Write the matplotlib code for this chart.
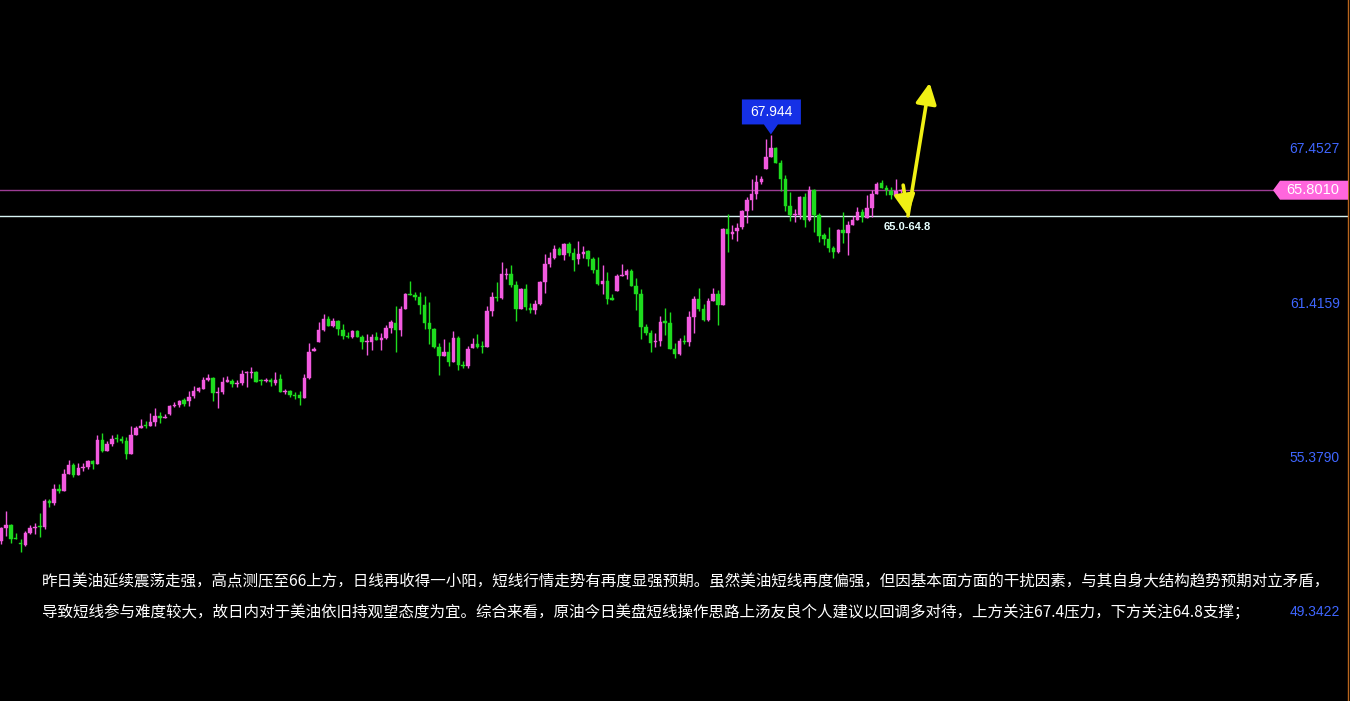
import matplotlib
matplotlib.use("Agg")
import matplotlib.pyplot as plt
from matplotlib.patches import Polygon, FancyArrowPatch
import numpy as np

# ---------------- data ----------------
opens = [52.09,52.59,52.70,52.21,52.01,51.92,52.39,52.59,52.66,52.63,
         53.64,53.56,54.11,54.03,54.70,55.05,54.66,54.93,54.97,55.21,
         55.09,56.03,55.60,55.87,56.11,56.07,55.99,55.48,56.22,56.50,
         56.62,56.58,56.73,56.97,56.89,57.05,57.36,57.40,57.59,57.55,
         57.75,57.95,58.02,58.37,58.45,57.87,57.91,58.30,58.34,58.22,
         58.26,58.65,58.65,58.69,58.37,58.34,58.37,58.26,58.41,57.91,
         57.95,57.79,57.79,57.67,58.45,59.51,59.86,60.33,60.76,60.49,
         60.68,60.33,60.10,60.06,60.29,60.06,59.86,59.86,60.06,59.94,
         60.02,60.41,60.61,60.33,61.15,61.74,61.70,61.62,61.31,60.61,
         60.37,59.67,59.31,59.47,59.08,60.02,58.96,58.92,59.63,59.78,
         59.71,59.67,61.07,61.62,61.58,62.48,62.52,62.09,61.15,61.94,
         61.19,61.11,61.35,62.21,62.91,63.15,63.50,63.27,63.70,63.35,
         63.11,63.31,63.42,63.11,62.68,62.13,62.25,61.58,61.86,62.44,
         62.48,62.64,62.05,61.74,60.45,60.21,59.86,59.90,60.68,60.61,
         59.59,59.39,59.90,59.86,60.84,61.54,61.15,60.72,61.47,61.74,
         61.31,64.28,64.09,64.21,64.36,64.99,65.42,65.65,66.12,66.63,
         67.10,67.45,66.87,66.24,65.18,64.83,64.83,65.54,64.64,65.81,
         64.83,64.05,63.89,63.54,63.39,64.24,64.13,64.44,64.64,64.95,
         64.71,65.11,65.65,66.08,65.89,65.77,65.58,65.77]
highs = [52.61,53.25,52.74,52.39,52.15,52.47,52.70,52.78,53.17,53.72,
         53.72,54.31,54.31,54.89,55.25,55.13,55.13,55.13,55.25,55.25,
         56.22,56.30,55.99,56.22,56.26,56.18,56.15,56.58,56.58,56.85,
         56.77,57.08,57.28,57.12,57.05,57.40,57.52,57.59,57.67,57.95,
         58.14,58.10,58.49,58.61,58.49,58.10,58.49,58.53,58.41,58.37,
         58.77,58.73,58.88,58.73,58.41,58.45,58.45,58.69,58.61,58.02,
         57.98,57.91,57.95,58.61,59.82,59.67,60.64,60.96,60.88,60.80,
         60.72,60.57,60.25,60.33,60.33,60.14,60.18,60.18,60.25,60.21,
         60.53,60.72,61.27,61.27,61.78,62.25,61.82,61.82,61.66,61.43,
         60.41,59.82,59.98,59.86,60.29,60.10,59.12,59.71,60.02,60.18,
         59.90,61.27,61.82,62.21,62.99,62.76,62.88,62.25,61.98,62.13,
         61.39,61.51,62.25,63.31,63.39,63.66,63.58,63.74,63.78,63.54,
         63.81,63.62,63.46,63.19,63.19,62.88,62.60,61.74,62.52,62.91,
         62.72,62.72,62.37,61.94,60.57,60.33,60.21,60.88,61.19,61.04,
         59.82,60.02,60.14,61.07,61.66,61.98,61.35,61.58,61.98,61.90,
         64.32,64.87,64.44,64.52,65.03,65.54,66.24,66.40,66.36,67.80,
         67.944,67.49,66.98,66.40,65.73,65.07,65.58,65.69,65.97,65.85,
         64.91,64.13,64.36,63.62,64.28,64.95,64.60,64.79,65.14,65.07,
         65.61,65.81,66.12,66.20,66.01,65.93,66.24,65.85]
lows = [51.96,52.28,52.01,52.17,51.66,51.88,52.35,52.35,52.23,52.56,
        53.42,53.49,53.96,54.03,54.70,54.58,54.66,54.82,54.89,54.89,
        55.09,55.56,55.60,55.79,55.95,55.91,55.29,55.48,56.22,56.50,
        56.50,56.58,56.58,56.69,56.89,57.01,57.32,57.32,57.36,57.36,
        57.67,57.91,58.02,58.34,57.55,57.28,57.83,58.30,58.10,58.10,
        58.18,58.10,58.45,58.30,58.18,58.30,58.14,58.18,57.91,57.83,
        57.71,57.63,57.40,57.67,58.41,59.51,59.86,60.29,60.49,60.45,
        60.14,59.98,60.02,60.02,60.06,59.59,59.35,59.55,59.94,59.55,
        59.98,60.21,59.47,60.10,61.15,61.70,61.51,60.96,60.37,59.78,
        59.63,58.57,59.31,58.92,59.08,58.77,58.85,58.85,59.63,59.63,
        59.43,59.67,60.88,61.47,61.54,62.33,62.01,60.68,61.15,61.11,
        60.99,60.96,61.31,61.78,62.80,63.11,63.27,63.07,63.23,62.64,
        62.91,63.15,62.84,62.56,62.09,61.74,61.35,61.51,61.86,62.44,
        62.33,62.05,61.11,59.98,60.14,59.47,59.67,59.71,60.14,59.59,
        59.24,59.35,59.78,59.71,60.21,61.07,60.68,60.68,61.47,60.53,
        61.31,63.39,63.89,63.81,64.28,64.52,65.03,65.46,66.04,66.63,
        67.10,66.87,65.77,64.99,64.60,64.56,64.68,64.36,64.60,64.17,
        63.77,63.66,63.39,63.15,63.35,63.74,63.27,64.44,64.64,64.56,
        64.71,64.75,65.65,65.89,65.61,65.46,65.58,65.70]
closes = [52.59,52.70,52.17,52.17,51.97,52.39,52.59,52.63,52.63,53.64,
          53.56,54.11,54.03,54.70,55.05,54.66,54.93,54.97,55.21,55.09,
          56.03,55.60,55.87,56.07,56.07,55.99,55.48,56.22,56.50,56.58,
          56.58,56.73,56.97,56.89,56.93,57.36,57.40,57.55,57.44,57.71,
          57.95,58.06,58.37,58.45,57.87,57.91,58.30,58.37,58.22,58.26,
          58.61,58.69,58.69,58.30,58.34,58.37,58.30,58.37,57.91,57.95,
          57.79,57.75,57.67,58.45,59.47,59.59,60.33,60.76,60.49,60.68,
          60.37,60.10,60.06,60.29,60.06,59.86,59.90,60.06,59.94,60.02,
          60.41,60.64,60.33,61.15,61.74,61.70,61.62,61.31,60.61,60.37,
          59.67,59.31,59.47,59.08,60.02,58.96,58.92,59.59,59.78,59.67,
          59.67,61.07,61.62,61.58,62.52,62.52,62.09,61.15,61.94,61.23,
          61.11,61.35,62.21,62.91,63.15,63.50,63.27,63.70,63.35,63.07,
          63.31,63.39,63.11,62.68,62.13,62.25,61.54,61.51,62.44,62.48,
          62.64,62.05,61.74,60.45,60.21,59.82,59.90,60.64,60.61,59.59,
          59.39,59.90,59.86,60.84,61.54,61.15,60.72,61.47,61.74,61.31,
          64.28,64.09,64.17,64.32,64.99,65.42,65.65,66.12,66.24,67.10,
          67.45,66.87,66.24,65.18,64.83,64.87,65.54,64.64,65.81,64.83,
          64.01,63.89,63.54,63.39,64.24,64.13,64.44,64.64,64.95,64.75,
          65.11,65.65,66.04,65.89,65.81,65.61,65.77,65.80]

price_ticks = [67.4527, 61.4159, 55.3790, 49.3422]
price_tick_labels = ["67.4527", "61.4159", "55.3790", "49.3422"]
last_price = 65.801
last_price_label = "65.8010"
support_level = 64.8
peak_index = 160
peak_price = 67.944
peak_label = "67.944"
arrow_x = [187.5, 188.5, 193.0]
arrow_y = [66.0, 64.8, 70.0]
zone_label = "65.0-64.8"
comment_lines = [
    "昨日美油延续震荡走强，高点测压至66上方，日线再收得一小阳，短线行情走势有再度显强预期。虽然美油短线再度偏强，但因基本面方面的干扰因素，与其自身大结构趋势预期对立矛盾，",
    "导致短线参与难度较大，故日内对于美油依旧持观望态度为宜。综合来看，原油今日美盘短线操作思路上汤友良个人建议以回调多对待，上方关注67.4压力，下方关注64.8支撑；",
]

# ---------------- styling ----------------
W, H = 1350, 701
PINK = "#F25ADF"
GREEN = "#1EDC1E"
BLUE_TXT = "#3F66FF"
YELLOW = "#F0F014"

fig = plt.figure(figsize=(W / 100, H / 100), dpi=100, facecolor="black")
ax = fig.add_axes([0, 0, 1348 / W, 1])
ax.set_facecolor("black")

o = np.array(opens); h = np.array(highs); l = np.array(lows); c = np.array(closes)
x = np.arange(len(o))
up = c >= o
cols = np.where(up, PINK, GREEN)

ax.vlines(x, l, h, colors=cols, linewidth=1.0, zorder=2)
body_bottom = np.minimum(o, c)
body_h = np.maximum(np.abs(c - o), 0.04)
ax.bar(x, body_h, bottom=body_bottom, width=0.72, color=cols, edgecolor=cols,
       linewidth=0.3, zorder=3)

ax.set_xlim(-0.27, 279.98)
ax.set_ylim(45.817, 73.243)

# horizontal lines
ax.axhline(last_price, color="#9C3C94", linewidth=1.0, zorder=1)
ax.axhline(support_level, color="#D8F4F4", linewidth=1.0, zorder=1)

# spines / ticks
for s in ["left", "top", "bottom"]:
    ax.spines[s].set_visible(False)
ax.spines["right"].set_color("#B8661E")
ax.spines["right"].set_linewidth(1.0)
ax.set_xticks([])
ax.yaxis.tick_right()
ax.set_yticks(price_ticks)
ax.set_yticklabels(price_tick_labels)
ax.tick_params(axis="y", length=0, pad=-6, labelcolor=BLUE_TXT, labelsize=10)
for lab in ax.get_yticklabels():
    lab.set_horizontalalignment("right")
    lab.set_fontfamily("Liberation Sans")

fig.canvas.draw()

def to_fig(px, py):
    return (px / W, py / H)

# last price tag
_, ty = ax.transData.transform((0, last_price))
tag = [(1273, ty), (1280, ty + 9.5), (1348, ty + 9.5), (1348, ty - 9.5), (1280, ty - 9.5)]
fig.add_artist(Polygon([to_fig(*p) for p in tag], closed=True, transform=fig.transFigure,
                       facecolor="#FF66DD", edgecolor="none", zorder=5))
fig.text(*to_fig(1313, ty), last_price_label, color="white", fontsize=10.5,
         family="Liberation Sans", ha="center", va="center", zorder=6)

# peak tooltip
px, py = ax.transData.transform((peak_index, peak_price))
tip = [(px, py + 1), (px - 7, py + 11), (px - 29, py + 11), (px - 29, py + 36),
       (px + 30, py + 36), (px + 30, py + 11), (px + 7, py + 11)]
fig.add_artist(Polygon([to_fig(*p) for p in tip], closed=True, transform=fig.transFigure,
                       facecolor="#1530E6", edgecolor="none", zorder=5))
fig.text(*to_fig(px + 0.5, py + 23.5), peak_label, color="white", fontsize=10,
         family="Liberation Sans", ha="center", va="center", zorder=6)

# yellow arrows
for i in range(2):
    arr = FancyArrowPatch((arrow_x[i], arrow_y[i]), (arrow_x[i + 1], arrow_y[i + 1]),
                          arrowstyle="-|>,head_length=0.7,head_width=0.35",
                          mutation_scale=18, color=YELLOW, linewidth=2.6,
                          shrinkA=0, shrinkB=0, zorder=6)
    ax.add_patch(arr)

ax.text(183.5, 64.36, zone_label, color="#E8FFFF", fontsize=8, fontweight="bold",
        family="Liberation Sans", ha="left", va="center", zorder=6)

# commentary text
for yy, line in zip([582, 613], comment_lines):
    fig.text(42 / W, 1 - yy / H, line, color="white", fontsize=11.2,
             family=["Noto Sans CJK SC", "DejaVu Sans"], ha="left", va="center")

fig.savefig("out.png", dpi=100, facecolor="black")
